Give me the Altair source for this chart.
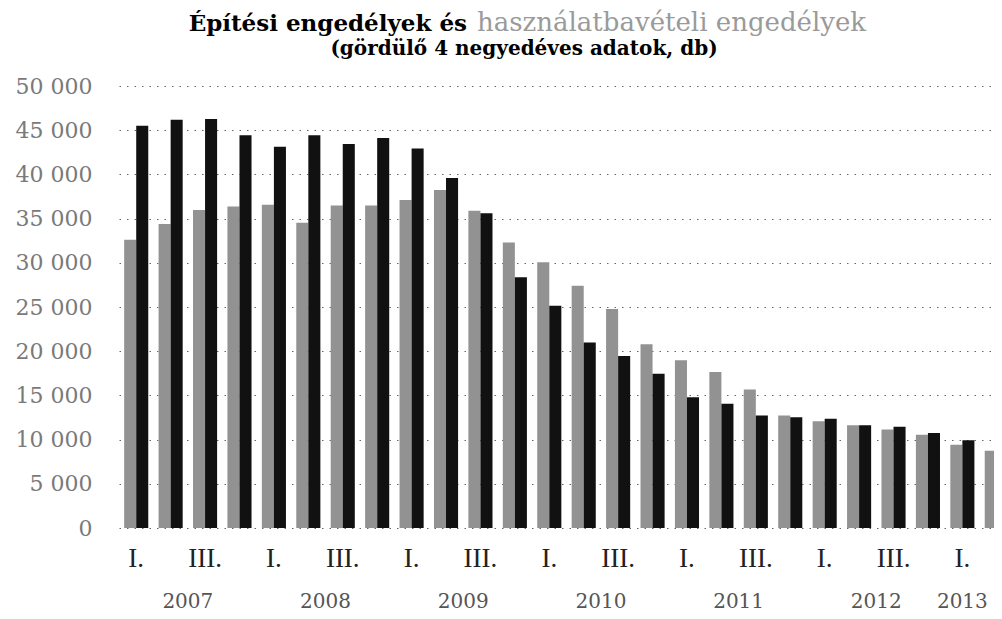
import altair as alt
import pandas as pd

# ---- data ----
years = [2007, 2008, 2009, 2010, 2011, 2012, 2013]
quarter_keys = [f"{y}-{q}" for y in years for q in (1, 2, 3, 4)][:26]  # 2007 Q1 .. 2013 Q2

series_names = ["Használatbavételi engedélyek", "Építési engedélyek"]

hasznalatbaveteli = [32600, 34400, 35980, 36360, 36580, 34520, 36470, 36470, 37110, 38240,
                     35900, 32300, 30070, 27410, 24770, 20790, 18970, 17640, 15680, 12720,
                     12080, 11620, 11130, 10560, 9430, 8750]
epitesi = [45490, 46170, 46280, 44440, 43120, 44440, 43430, 44110, 42940, 39590,
           35610, 28370, 25140, 20980, 19460, 17460, 14800, 14050, 12720, 12530,
           12350, 11620, 11440, 10760, 9920, 9320]

y_ticks = [0, 5000, 10000, 15000, 20000, 25000, 30000, 35000, 40000, 45000, 50000]

year_labels = ["2007", "2008", "2009", "2010", "2011", "2012"]
year_anchor = ["2007-2", "2008-2", "2009-2", "2010-2", "2011-2", "2012-2"]
last_year_label = ["2013"]
last_year_anchor = ["2013-1"]

title_black = "Építési engedélyek és"
title_gray = "használatbavételi engedélyek"
subtitle = "(gördülő 4 negyedéves adatok, db)"

# ---- tables ----
df = pd.DataFrame({
    "negyedev": quarter_keys * 2,
    "sorozat": [series_names[0]] * len(quarter_keys) + [series_names[1]] * len(quarter_keys),
    "db": hasznalatbaveteli + epitesi,
})
years_df = pd.DataFrame({"negyedev": year_anchor, "ev": year_labels})
last_df = pd.DataFrame({"negyedev": last_year_anchor, "ev": last_year_label})

W, H = 875, 442
x_scale = alt.Scale(domain=quarter_keys, range=[0, 895], paddingInner=0.3, paddingOuter=0.15)

q_expr = ("split(datum.value, '-')[1] == '1' ? 'I.' : "
          "(split(datum.value, '-')[1] == '3' ? 'III.' : '')")

bars = alt.Chart(df).mark_bar(clip=True).encode(
    x=alt.X("negyedev:N", sort=quarter_keys, scale=x_scale,
            axis=alt.Axis(title=None, labelExpr=q_expr, ticks=False, domain=False,
                          labelAngle=0, labelPadding=17, labelFont="Liberation Serif",
                          labelFontSize=27, labelColor="#222222", labelBaseline="top",
                          labelOverlap=False, grid=False)),
    xOffset=alt.XOffset("sorozat:N", sort=series_names,
                        scale=alt.Scale(domain=series_names, paddingInner=0, paddingOuter=0)),
    y=alt.Y("db:Q", scale=alt.Scale(domain=[0, 50000], nice=False),
            axis=alt.Axis(values=y_ticks, title=None, grid=True, gridDash=[1.5, 6],
                          gridColor="#666666", gridWidth=1, domain=False, ticks=False,
                          labelPadding=27, labelFont="DejaVu Serif", labelFontSize=22,
                          labelColor="#7a7a7a",
                          labelExpr="replace(format(datum.value, ','), ',', ' ')")),
    color=alt.Color("sorozat:N", scale=alt.Scale(domain=series_names,
                                                 range=["#929292", "#111111"]), legend=None),
)

year_text = alt.Chart(years_df).mark_text(
    dx=17.2, font="DejaVu Serif", fontSize=20, color="#555555", baseline="middle"
).encode(x=alt.X("negyedev:N", sort=quarter_keys), y=alt.value(516), text="ev:N")

last_year_text = alt.Chart(last_df).mark_text(
    font="DejaVu Serif", fontSize=20, color="#555555", baseline="middle"
).encode(x=alt.X("negyedev:N", sort=quarter_keys), y=alt.value(516), text="ev:N")

t1 = alt.Chart(pd.DataFrame({"t": [title_black]})).mark_text(
    font="DejaVu Serif", fontSize=23, fontWeight="bold", color="#000000",
    align="right", baseline="alphabetic"
).encode(x=alt.value(348), y=alt.value(-55), text="t:N")

t2 = alt.Chart(pd.DataFrame({"t": [title_gray]})).mark_text(
    font="DejaVu Serif", fontSize=26, color="#9a9a9a",
    align="left", baseline="alphabetic"
).encode(x=alt.value(358), y=alt.value(-55), text="t:N")

t3 = alt.Chart(pd.DataFrame({"t": [subtitle]})).mark_text(
    font="DejaVu Serif", fontSize=20, fontWeight="bold", color="#000000",
    align="center", baseline="alphabetic"
).encode(x=alt.value(405), y=alt.value(-31), text="t:N")

chart = alt.layer(bars, year_text, last_year_text, t1, t2, t3).properties(
    width=W, height=H,
    autosize=alt.AutoSizeParams(type="none"),
    padding={"left": 111, "top": 78, "right": 0, "bottom": 90},
    background="white",
).configure_view(stroke=None)

chart.save("out.html", embed_options={"renderer": "svg", "actions": False})
